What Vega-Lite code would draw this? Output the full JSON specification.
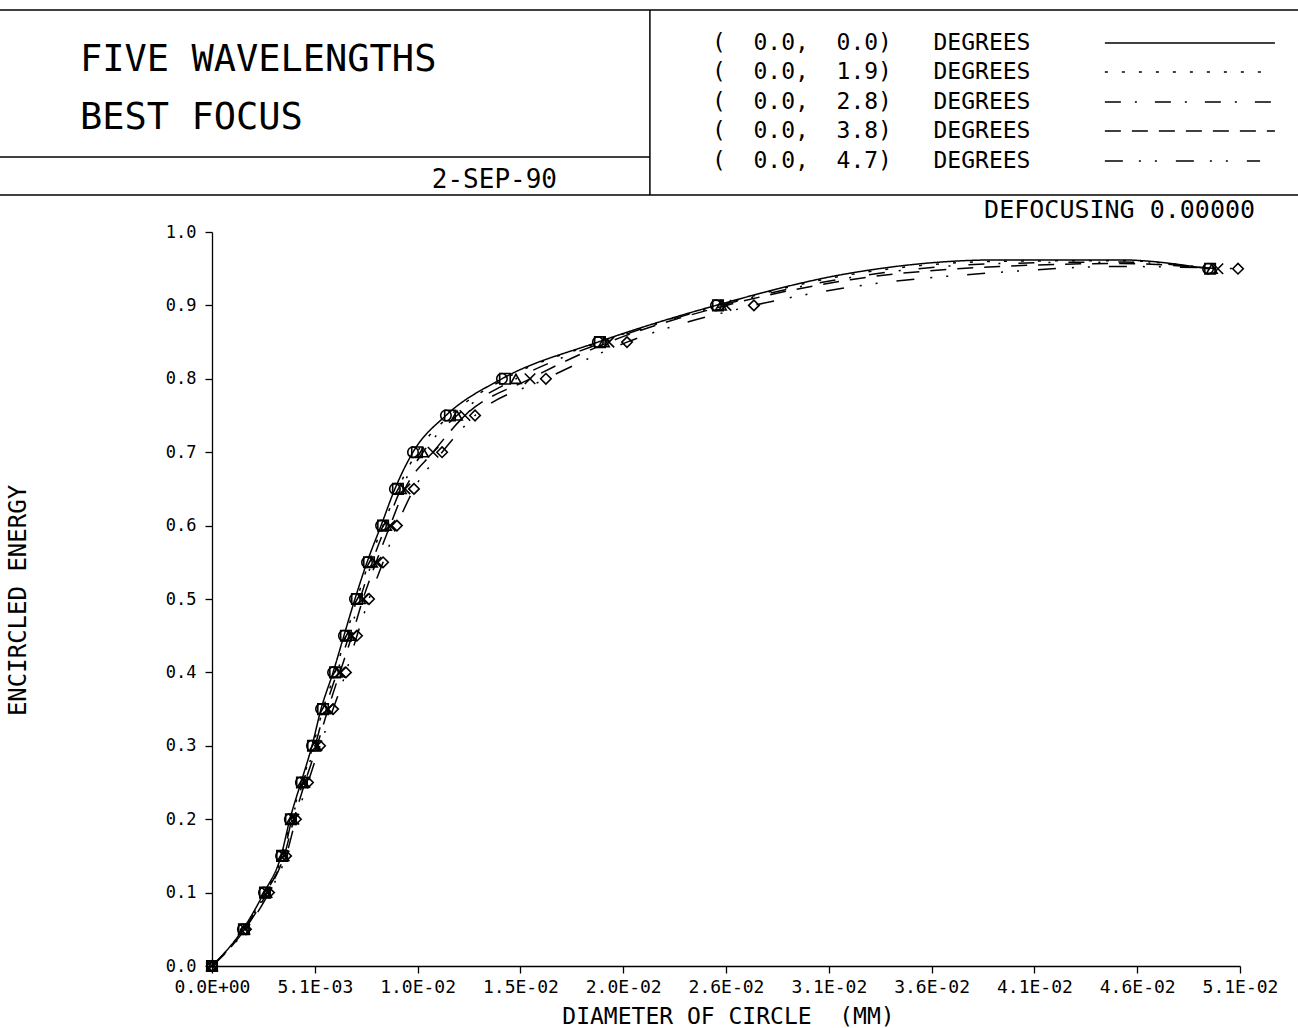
{
  "$schema": "https://vega.github.io/schema/vega-lite/v6.json",
  "width": 1028,
  "height": 734,
  "autosize": {"type": "none"},
  "padding": {"left": 212, "top": 232, "right": 58, "bottom": 62},
  "background": "white",
  "config": {
    "view": {"stroke": null},
    "font": "DejaVu Sans Mono",
    "text": {"font": "DejaVu Sans Mono", "color": "black"},
    "axis": {"grid": false, "domainColor": "black", "tickColor": "black", "labelColor": "black", "titleColor": "black", "labelFont": "DejaVu Sans Mono", "titleFont": "DejaVu Sans Mono", "titleFontWeight": "normal", "domainWidth": 1.3, "tickWidth": 1.3, "tickSize": 7}
  },
  "datasets": {
    "one": [{}],
    "curves": [
      {"series": "0.0", "kind": "m", "x": 0, "y": 0},
      {"series": "0.0", "kind": "m", "x": 0.00154, "y": 0.05},
      {"series": "0.0", "kind": "m", "x": 0.00259, "y": 0.1},
      {"series": "0.0", "kind": "m", "x": 0.00344, "y": 0.15},
      {"series": "0.0", "kind": "m", "x": 0.00388, "y": 0.2},
      {"series": "0.0", "kind": "m", "x": 0.00443, "y": 0.25},
      {"series": "0.0", "kind": "m", "x": 0.00498, "y": 0.3},
      {"series": "0.0", "kind": "m", "x": 0.00543, "y": 0.35},
      {"series": "0.0", "kind": "m", "x": 0.00603, "y": 0.4},
      {"series": "0.0", "kind": "m", "x": 0.00657, "y": 0.45},
      {"series": "0.0", "kind": "m", "x": 0.00712, "y": 0.5},
      {"series": "0.0", "kind": "m", "x": 0.00772, "y": 0.55},
      {"series": "0.0", "kind": "m", "x": 0.00842, "y": 0.6},
      {"series": "0.0", "kind": "m", "x": 0.00911, "y": 0.65},
      {"series": "0.0", "kind": "m", "x": 0.01001, "y": 0.7},
      {"series": "0.0", "kind": "m", "x": 0.01165, "y": 0.75},
      {"series": "0.0", "kind": "m", "x": 0.01444, "y": 0.8},
      {"series": "0.0", "kind": "m", "x": 0.01922, "y": 0.85},
      {"series": "0.0", "kind": "m", "x": 0.0251, "y": 0.9},
      {"series": "0.0", "kind": "c", "x": 0.0318, "y": 0.944},
      {"series": "0.0", "kind": "c", "x": 0.0392, "y": 0.962},
      {"series": "0.0", "kind": "c", "x": 0.0452, "y": 0.962},
      {"series": "0.0", "kind": "m", "x": 0.04961, "y": 0.95},

      {"series": "1.9", "kind": "m", "x": 0, "y": 0},
      {"series": "1.9", "kind": "m", "x": 0.00159, "y": 0.05},
      {"series": "1.9", "kind": "m", "x": 0.00264, "y": 0.1},
      {"series": "1.9", "kind": "m", "x": 0.00349, "y": 0.15},
      {"series": "1.9", "kind": "m", "x": 0.00393, "y": 0.2},
      {"series": "1.9", "kind": "m", "x": 0.00448, "y": 0.25},
      {"series": "1.9", "kind": "m", "x": 0.00503, "y": 0.3},
      {"series": "1.9", "kind": "m", "x": 0.00553, "y": 0.35},
      {"series": "1.9", "kind": "m", "x": 0.00613, "y": 0.4},
      {"series": "1.9", "kind": "m", "x": 0.00667, "y": 0.45},
      {"series": "1.9", "kind": "m", "x": 0.00722, "y": 0.5},
      {"series": "1.9", "kind": "m", "x": 0.00782, "y": 0.55},
      {"series": "1.9", "kind": "m", "x": 0.00852, "y": 0.6},
      {"series": "1.9", "kind": "m", "x": 0.00926, "y": 0.65},
      {"series": "1.9", "kind": "m", "x": 0.01021, "y": 0.7},
      {"series": "1.9", "kind": "m", "x": 0.01185, "y": 0.75},
      {"series": "1.9", "kind": "m", "x": 0.01459, "y": 0.8},
      {"series": "1.9", "kind": "m", "x": 0.01932, "y": 0.85},
      {"series": "1.9", "kind": "m", "x": 0.0252, "y": 0.9},
      {"series": "1.9", "kind": "c", "x": 0.0318, "y": 0.942},
      {"series": "1.9", "kind": "c", "x": 0.0392, "y": 0.96},
      {"series": "1.9", "kind": "c", "x": 0.0452, "y": 0.961},
      {"series": "1.9", "kind": "m", "x": 0.04971, "y": 0.95},

      {"series": "2.8", "kind": "m", "x": 0, "y": 0},
      {"series": "2.8", "kind": "m", "x": 0.00159, "y": 0.05},
      {"series": "2.8", "kind": "m", "x": 0.00269, "y": 0.1},
      {"series": "2.8", "kind": "m", "x": 0.00354, "y": 0.15},
      {"series": "2.8", "kind": "m", "x": 0.00398, "y": 0.2},
      {"series": "2.8", "kind": "m", "x": 0.00453, "y": 0.25},
      {"series": "2.8", "kind": "m", "x": 0.00513, "y": 0.3},
      {"series": "2.8", "kind": "m", "x": 0.00563, "y": 0.35},
      {"series": "2.8", "kind": "m", "x": 0.00623, "y": 0.4},
      {"series": "2.8", "kind": "m", "x": 0.00682, "y": 0.45},
      {"series": "2.8", "kind": "m", "x": 0.00737, "y": 0.5},
      {"series": "2.8", "kind": "m", "x": 0.00797, "y": 0.55},
      {"series": "2.8", "kind": "m", "x": 0.00867, "y": 0.6},
      {"series": "2.8", "kind": "m", "x": 0.00941, "y": 0.65},
      {"series": "2.8", "kind": "m", "x": 0.01051, "y": 0.7},
      {"series": "2.8", "kind": "m", "x": 0.0122, "y": 0.75},
      {"series": "2.8", "kind": "m", "x": 0.01514, "y": 0.8},
      {"series": "2.8", "kind": "m", "x": 0.01952, "y": 0.85},
      {"series": "2.8", "kind": "m", "x": 0.02535, "y": 0.9},
      {"series": "2.8", "kind": "c", "x": 0.0318, "y": 0.938},
      {"series": "2.8", "kind": "c", "x": 0.0392, "y": 0.957},
      {"series": "2.8", "kind": "c", "x": 0.0452, "y": 0.959},
      {"series": "2.8", "kind": "m", "x": 0.0498, "y": 0.95},

      {"series": "3.8", "kind": "m", "x": 0, "y": 0},
      {"series": "3.8", "kind": "m", "x": 0.00164, "y": 0.05},
      {"series": "3.8", "kind": "m", "x": 0.00274, "y": 0.1},
      {"series": "3.8", "kind": "m", "x": 0.00359, "y": 0.15},
      {"series": "3.8", "kind": "m", "x": 0.00408, "y": 0.2},
      {"series": "3.8", "kind": "m", "x": 0.00463, "y": 0.25},
      {"series": "3.8", "kind": "m", "x": 0.00523, "y": 0.3},
      {"series": "3.8", "kind": "m", "x": 0.00578, "y": 0.35},
      {"series": "3.8", "kind": "m", "x": 0.00637, "y": 0.4},
      {"series": "3.8", "kind": "m", "x": 0.00697, "y": 0.45},
      {"series": "3.8", "kind": "m", "x": 0.00752, "y": 0.5},
      {"series": "3.8", "kind": "m", "x": 0.00817, "y": 0.55},
      {"series": "3.8", "kind": "m", "x": 0.00887, "y": 0.6},
      {"series": "3.8", "kind": "m", "x": 0.00961, "y": 0.65},
      {"series": "3.8", "kind": "m", "x": 0.01101, "y": 0.7},
      {"series": "3.8", "kind": "m", "x": 0.0126, "y": 0.75},
      {"series": "3.8", "kind": "m", "x": 0.01584, "y": 0.8},
      {"series": "3.8", "kind": "m", "x": 0.01977, "y": 0.85},
      {"series": "3.8", "kind": "m", "x": 0.0256, "y": 0.9},
      {"series": "3.8", "kind": "c", "x": 0.0318, "y": 0.935},
      {"series": "3.8", "kind": "c", "x": 0.0392, "y": 0.953},
      {"series": "3.8", "kind": "c", "x": 0.0452, "y": 0.957},
      {"series": "3.8", "kind": "m", "x": 0.0501, "y": 0.95},

      {"series": "4.7", "kind": "m", "x": 0, "y": 0},
      {"series": "4.7", "kind": "m", "x": 0.00169, "y": 0.05},
      {"series": "4.7", "kind": "m", "x": 0.00284, "y": 0.1},
      {"series": "4.7", "kind": "m", "x": 0.00369, "y": 0.15},
      {"series": "4.7", "kind": "m", "x": 0.00418, "y": 0.2},
      {"series": "4.7", "kind": "m", "x": 0.00478, "y": 0.25},
      {"series": "4.7", "kind": "m", "x": 0.00538, "y": 0.3},
      {"series": "4.7", "kind": "m", "x": 0.00603, "y": 0.35},
      {"series": "4.7", "kind": "m", "x": 0.00667, "y": 0.4},
      {"series": "4.7", "kind": "m", "x": 0.00722, "y": 0.45},
      {"series": "4.7", "kind": "m", "x": 0.00782, "y": 0.5},
      {"series": "4.7", "kind": "m", "x": 0.00852, "y": 0.55},
      {"series": "4.7", "kind": "m", "x": 0.00921, "y": 0.6},
      {"series": "4.7", "kind": "m", "x": 0.01006, "y": 0.65},
      {"series": "4.7", "kind": "m", "x": 0.01146, "y": 0.7},
      {"series": "4.7", "kind": "m", "x": 0.0131, "y": 0.75},
      {"series": "4.7", "kind": "m", "x": 0.01663, "y": 0.8},
      {"series": "4.7", "kind": "m", "x": 0.02067, "y": 0.85},
      {"series": "4.7", "kind": "m", "x": 0.02699, "y": 0.9},
      {"series": "4.7", "kind": "c", "x": 0.0318, "y": 0.925},
      {"series": "4.7", "kind": "c", "x": 0.0392, "y": 0.945},
      {"series": "4.7", "kind": "c", "x": 0.0452, "y": 0.953},
      {"series": "4.7", "kind": "m", "x": 0.0511, "y": 0.95}
    ]
  },
  "layer": [
    {
      "data": {"name": "curves"},
      "mark": {"type": "line", "interpolate": "monotone", "color": "black", "strokeWidth": 1.5},
      "encoding": {
        "x": {"field": "x", "type": "quantitative", "scale": {"domain": [0, 0.0512], "nice": false, "zero": false},
          "axis": {"title": "DIAMETER OF CIRCLE\u00a0\u00a0(MM)", "values": [0, 0.00512, 0.01024, 0.01536, 0.02048, 0.0256, 0.03072, 0.03584, 0.04096, 0.04608, 0.0512],
            "labelExpr": "['0.0E+00','5.1E-03','1.0E-02','1.5E-02','2.0E-02','2.6E-02','3.1E-02','3.6E-02','4.1E-02','4.6E-02','5.1E-02'][round(datum.value/0.00512)]",
            "labelFontSize": 18, "labelPadding": 5, "labelFlush": false, "labelOverlap": false,
            "titleFontSize": 23, "titleX": 516, "titleY": 50, "titleBaseline": "middle", "titleAlign": "center"}},
        "y": {"field": "y", "type": "quantitative", "scale": {"domain": [0, 1], "nice": false, "zero": false},
          "axis": {"title": "ENCIRCLED ENERGY", "values": [0, 0.1, 0.2, 0.3, 0.4, 0.5, 0.6, 0.7, 0.8, 0.9, 1.0], "format": ".1f",
            "labelFontSize": 17, "labelPadding": 9, "labelFlush": false, "labelOverlap": false,
            "titleFontSize": 24, "titleX": -194, "titleY": 368, "titleAngle": -90, "titleAlign": "center", "titleBaseline": "middle"}},
        "strokeDash": {"field": "series", "type": "nominal", "legend": null,
          "scale": {"domain": ["0.0", "1.9", "2.8", "3.8", "4.7"], "range": [[1, 0], [3, 14], [16, 14, 2, 18], [16, 11], [18, 16, 2, 14, 2, 19]]}}
      }
    },
    {
      "data": {"name": "curves"},
      "transform": [{"filter": "datum.kind == 'm'"}],
      "mark": {"type": "point", "filled": false, "color": "black", "strokeWidth": 1.6, "size": 110, "opacity": 1},
      "encoding": {
        "x": {"field": "x", "type": "quantitative"},
        "y": {"field": "y", "type": "quantitative"},
        "shape": {"field": "series", "type": "nominal", "legend": null,
          "scale": {"domain": ["0.0", "1.9", "2.8", "3.8", "4.7"], "range": ["circle", "square", "triangle-up", "M-1,-1L1,1M-1,1L1,-1", "diamond"]}}
      }
    },
    {
      "data": {"name": "one"},
      "mark": {"type": "rule", "color": "black", "strokeWidth": 1.5},
      "encoding": {"x": {"datum": -0.01056}, "x2": {"datum": 0.05409}, "y": {"datum": 1.3025}}
    },
    {
      "data": {"name": "one"},
      "mark": {"type": "rule", "color": "black", "strokeWidth": 1.5},
      "encoding": {"x": {"datum": -0.01056}, "x2": {"datum": 0.05409}, "y": {"datum": 1.0504}}
    },
    {
      "data": {"name": "one"},
      "mark": {"type": "rule", "color": "black", "strokeWidth": 1.5},
      "encoding": {"x": {"datum": -0.01056}, "x2": {"datum": 0.02181}, "y": {"datum": 1.1022}}
    },
    {
      "data": {"name": "one"},
      "mark": {"type": "rule", "color": "black", "strokeWidth": 1.5},
      "encoding": {"x": {"datum": 0.02181}, "y": {"datum": 1.0504}, "y2": {"datum": 1.3025}}
    },
    {
      "data": {"name": "one"},
      "mark": {"type": "text", "align": "left", "baseline": "middle", "fontSize": 37},
      "encoding": {"x": {"datum": -0.006574}, "y": {"datum": 1.2343}, "text": {"value": "FIVE WAVELENGTHS"}}
    },
    {
      "data": {"name": "one"},
      "mark": {"type": "text", "align": "left", "baseline": "middle", "fontSize": 37},
      "encoding": {"x": {"datum": -0.006574}, "y": {"datum": 1.1553}, "text": {"value": "BEST FOCUS"}}
    },
    {
      "data": {"name": "one"},
      "mark": {"type": "text", "align": "right", "baseline": "middle", "fontSize": 26},
      "encoding": {"x": {"datum": 0.017183}, "y": {"datum": 1.0708}, "text": {"value": "2-SEP-90"}}
    },
    {
      "data": {"name": "one"},
      "mark": {"type": "text", "align": "right", "baseline": "middle", "fontSize": 25},
      "encoding": {"x": {"datum": 0.05195}, "y": {"datum": 1.030}, "text": {"value": "DEFOCUSING 0.00000"}}
    },
    {
      "data": {"name": "one"},
      "mark": {"type": "text", "align": "left", "baseline": "middle", "fontSize": 23, "lineHeight": 29.5},
      "encoding": {"x": {"datum": 0.0249}, "y": {"datum": 1.2575},
        "text": {"value": ["(\u00a0\u00a00.0,\u00a0\u00a00.0)\u00a0\u00a0\u00a0DEGREES", "(\u00a0\u00a00.0,\u00a0\u00a01.9)\u00a0\u00a0\u00a0DEGREES", "(\u00a0\u00a00.0,\u00a0\u00a02.8)\u00a0\u00a0\u00a0DEGREES", "(\u00a0\u00a00.0,\u00a0\u00a03.8)\u00a0\u00a0\u00a0DEGREES", "(\u00a0\u00a00.0,\u00a0\u00a04.7)\u00a0\u00a0\u00a0DEGREES"]}}
    },
    {
      "data": {"name": "one"},
      "mark": {"type": "rule", "color": "black", "strokeWidth": 1.3},
      "encoding": {"x": {"datum": 0.04447}, "x2": {"datum": 0.05294}, "y": {"datum": 1.2575}, "strokeDash": {"datum": "0.0"}}
    },
    {
      "data": {"name": "one"},
      "mark": {"type": "rule", "color": "black", "strokeWidth": 1.3},
      "encoding": {"x": {"datum": 0.04447}, "x2": {"datum": 0.05294}, "y": {"datum": 1.2180}, "strokeDash": {"datum": "1.9"}}
    },
    {
      "data": {"name": "one"},
      "mark": {"type": "rule", "color": "black", "strokeWidth": 1.3},
      "encoding": {"x": {"datum": 0.04447}, "x2": {"datum": 0.05294}, "y": {"datum": 1.1771}, "strokeDash": {"datum": "2.8"}}
    },
    {
      "data": {"name": "one"},
      "mark": {"type": "rule", "color": "black", "strokeWidth": 1.3},
      "encoding": {"x": {"datum": 0.04447}, "x2": {"datum": 0.05294}, "y": {"datum": 1.1376}, "strokeDash": {"datum": "3.8"}}
    },
    {
      "data": {"name": "one"},
      "mark": {"type": "rule", "color": "black", "strokeWidth": 1.3},
      "encoding": {"x": {"datum": 0.04447}, "x2": {"datum": 0.0522}, "y": {"datum": 1.0967}, "strokeDash": {"datum": "4.7"}}
    }
  ]
}
